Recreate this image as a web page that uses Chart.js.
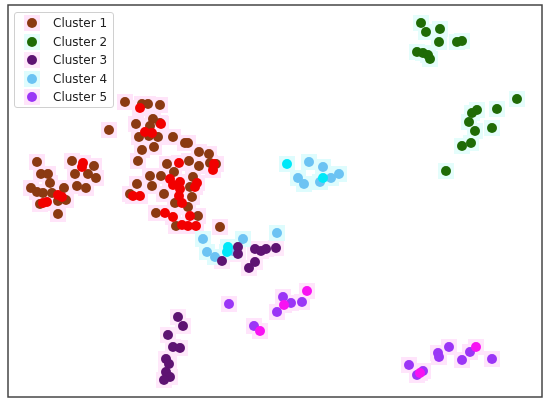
<!DOCTYPE html>
<html>
<head>
<meta charset="utf-8">
<script src="https://cdn.jsdelivr.net/npm/chart.js@4/dist/chart.umd.min.js"></script>
<style>
  body { margin:0; background:#fff; }
  #wrap { position:relative; width:550px; height:405px; }
  #legend {
    position:absolute; left:14px; top:12px; width:98px; height:94px;
    border:1px solid #d0d0d0; border-radius:3px; background:rgba(255,255,255,0.85);
    font-family:"DejaVu Sans", sans-serif; font-size:12px; color:#222;
  }
  #legend .row { position:absolute; left:0; height:18px; line-height:18px; white-space:nowrap; }
  #legend .halo { position:absolute; left:9px; top:1px; width:16px; height:16px; }
  #legend .dot { position:absolute; left:12px; top:4px; width:10px; height:10px; border-radius:50%; }
  #legend .txt { position:absolute; left:38px; top:0; }
</style>
</head>
<body>
<div id="wrap">
  <canvas id="c" width="550" height="405"></canvas>
  <div id="legend"></div>
</div>
<script>
// cluster names
const labels = ['Cluster 1', 'Cluster 2', 'Cluster 3', 'Cluster 4', 'Cluster 5'];

// [x, y] readings, x 0..534, y 0..392
const c1Main = [[117,295],[134,293],[140,293],[152,292],[101,267],[128,273],[145,278],[152,274],[142,271],
  [131,260],[141,261],[150,260],[165,260],[177,254],[180,254],[146,250],[134,247],[191,245],[201,243],
  [130,236],[159,233],[181,236],[191,231],[202,234],[208,233],[166,225],[142,221],[153,221],[185,220],
  [144,211],[129,213],[182,210],[122,203],[156,203],[184,200],[167,194],[180,190],[148,184],[190,181],
  [168,171],[212,170],
  [29,235],[64,236],[86,231],[33,223],[40,223],[67,223],[80,223],[88,219],[42,214],[23,209],[29,205],
  [35,204],[44,204],[56,209],[69,211],[78,209],[58,197],[50,196],[32,193],[50,183]];
const c1Red = [[132,289],[153,273],[137,265],[144,264],[171,234],[206,233],[205,227],[162,218],[172,215],
  [189,214],[165,212],[187,210],[172,208],[125,201],[132,201],[171,201],[174,194],[157,184],[165,180],
  [182,181],[174,172],[180,171],[188,171],
  [75,234],[74,230],[50,202],[54,200],[35,194],[39,195]];
const c2Main = [[413,374],[432,368],[418,365],[431,355],[449,355],[454,356],[409,345],[415,344],[420,342],
  [422,338],[509,298],[469,287],[464,284],[489,288],[461,275],[467,266],[484,269],[463,254],[454,251],[438,226]];
const c3Main = [[214,136],[230,150],[230,143],[247,148],[253,146],[258,148],[268,149],[247,135],[241,129],
  [170,80],[175,71],[160,62],[165,50],[172,49],[158,38],[161,33],[158,25],[162,20],[156,17]];
const c4Main = [[301,235],[315,230],[290,219],[296,213],[312,215],[323,219],[331,223],[195,158],[235,158],
  [269,164],[199,145],[207,140],[225,146]];
const c4Cyan = [[279,233],[315,219],[220,150],[219,145]];
const c5Main = [[221,93],[246,71],[275,100],[283,94],[269,85],[294,95],[401,32],[409,22],[415,26],[430,44],
  [431,40],[441,50],[454,37],[462,45],[484,38]];
const c5Mag = [[252,66],[276,92],[299,106],[412,24],[468,50]];

const mainColors = ['#8b3a12', '#1f6b06', '#5e1372', '#6cc3f3', '#9b35f6'];
const hiColors   = ['#f20000', null, null, '#00e8f8', '#f812f2'];
const haloColors = ['#ffe4f9', '#e4fdfb', '#ffe8fa', '#defcfd', '#ffe4fb'];

const groups = [[c1Main, c1Red], [c2Main, []], [c3Main, []], [c4Main, c4Cyan], [c5Main, c5Mag]];

const datasets = groups.map(([main, hi], i) => {
  const pts = main.concat(hi).map(p => ({ x: p[0], y: p[1] }));
  const cols = main.map(() => mainColors[i]).concat(hi.map(() => hiColors[i]));
  return {
    label: labels[i],
    data: pts,
    backgroundColor: cols,
    borderWidth: 0,
    pointRadius: 5,
    pointHoverRadius: 5
  };
});

// faint square halo behind every point
const haloPlugin = {
  id: 'halo',
  beforeDatasetsDraw(chart) {
    const ctx = chart.ctx;
    ctx.save();
    chart.data.datasets.forEach((ds, i) => {
      ctx.fillStyle = haloColors[i];
      chart.getDatasetMeta(i).data.forEach(el => {
        ctx.fillRect(Math.round(el.x - 8), Math.round(el.y - 8), 16, 16);
      });
    });
    ctx.restore();
  }
};

const framePlugin = {
  id: 'frame',
  afterDraw(chart) {
    const a = chart.chartArea, ctx = chart.ctx;
    ctx.save();
    ctx.strokeStyle = '#444';
    ctx.lineWidth = 1.5;
    ctx.strokeRect(a.left, a.top, a.right - a.left, a.bottom - a.top);
    ctx.restore();
  }
};

new Chart(document.getElementById('c').getContext('2d'), {
  type: 'scatter',
  data: { datasets },
  options: {
    responsive: false,
    animation: false,
    layout: { padding: { left: 8, right: 8, top: 5, bottom: 8 } },
    scales: {
      x: { type: 'linear', min: 0, max: 534, display: false },
      y: { type: 'linear', min: 0, max: 392, display: false }
    },
    plugins: { legend: { display: false }, tooltip: { enabled: false } }
  },
  plugins: [haloPlugin, framePlugin]
});

// legend
const leg = document.getElementById('legend');
labels.forEach((name, i) => {
  const row = document.createElement('div');
  row.className = 'row';
  row.style.top = (1 + i * 18.5) + 'px';
  row.innerHTML = `<div class="halo" style="background:${haloColors[i]}"></div>` +
    `<div class="dot" style="background:${mainColors[i]}"></div><span class="txt">${name}</span>`;
  leg.appendChild(row);
});
</script>
</body>
</html>
